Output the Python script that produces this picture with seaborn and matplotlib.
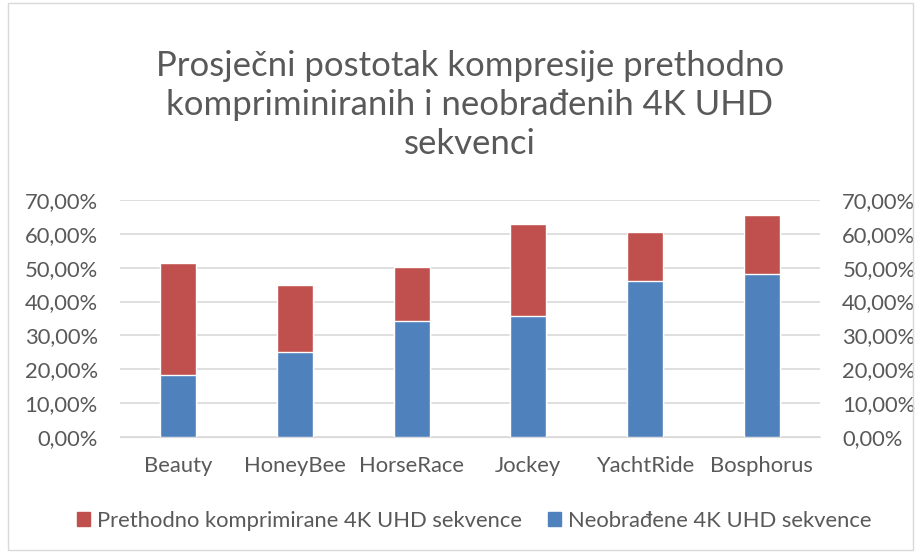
import numpy as np
import pandas as pd
import matplotlib
matplotlib.use("Agg")
import matplotlib.pyplot as plt
import seaborn as sns
from matplotlib.ticker import FuncFormatter
from matplotlib.patches import Patch

sequences = ["Beauty", "HoneyBee", "HorseRace", "Jockey", "YachtRide", "Bosphorus"]
prethodno = [51.4, 45.0, 50.2, 62.8, 60.5, 65.6]
neobradjene = [18.2, 25.2, 34.4, 35.7, 46.0, 48.1]
label_red = "Prethodno komprimirane 4K UHD sekvence"
label_blue = "Neobrađene 4K UHD sekvence"

red = "#C0504D"
blue = "#4F81BD"
txt = "#595959"

sns.set_style("white")
plt.rcParams["font.family"] = ["Lato", "DejaVu Sans"]

df = pd.DataFrame({"seq": sequences, "red": prethodno, "blue": neobradjene})

fig = plt.figure(figsize=(9.19, 5.53), dpi=100)
ax = fig.add_axes([120 / 919, 1 - 437 / 553, 700 / 919, 237 / 553])
ax2 = ax.twinx()

sns.barplot(data=df, x="seq", y="red", color=red, width=0.31, saturation=1, ax=ax)
sns.barplot(data=df, x="seq", y="blue", color=blue, width=0.31, saturation=1, ax=ax2)

fmt = FuncFormatter(lambda v, p: f"{v:.2f}%".replace(".", ","))
for a in (ax, ax2):
    a.set_ylim(0, 70)
    a.set_yticks(np.arange(0, 71, 10))
    a.yaxis.set_major_formatter(fmt)
    a.set_xlabel("")
    a.set_ylabel("")
    a.tick_params(axis="both", length=0, labelsize=15.8, colors=txt, pad=16)
    for s in a.spines.values():
        s.set_visible(False)
ax.set_xlim(-0.5, 5.5)
ax.set_axisbelow(True)
ax.yaxis.grid(True, color="#D9D9D9", linewidth=1.2)
ax.tick_params(axis="x", pad=14)
ax.spines["bottom"].set_visible(True)
ax.spines["bottom"].set_color("#D9D9D9")

fig.text(470 / 919, 1 - 105 / 553,
         "Prosječni postotak kompresije prethodno\nkompriminiranih i neobrađenih 4K UHD\nsekvenci",
         ha="center", va="center", fontsize=25, color=txt, linespacing=1.25)

handles = [Patch(color=red, label=label_red), Patch(color=blue, label=label_blue)]
fig.legend(handles=handles, loc="center", bbox_to_anchor=(474 / 919, 1 - 521 / 553),
           ncol=2, frameon=False, fontsize=15.8, labelcolor=txt,
           handlelength=0.6, handleheight=0.6, handletextpad=0.3, columnspacing=1.2)

fig.patches.append(plt.Rectangle((8 / 919, 0.005), 905 / 919, 0.99, transform=fig.transFigure,
                                 fill=False, edgecolor="#D9D9D9", linewidth=1))

fig.savefig("out.png", dpi=100)
